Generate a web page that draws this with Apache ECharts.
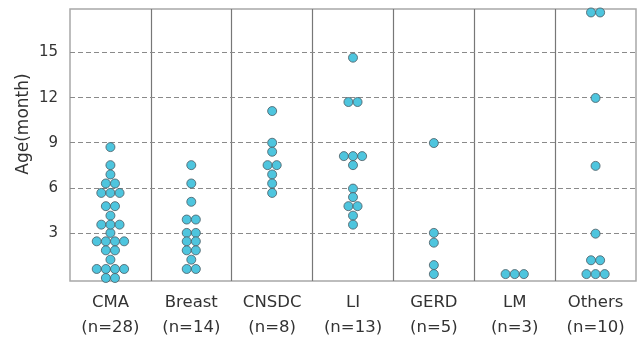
<!DOCTYPE html>
<html><head><meta charset="utf-8">
<script src="https://cdn.jsdelivr.net/npm/echarts@6/dist/echarts.min.js"></script>
<style>html,body{margin:0;padding:0;background:#fff}#c{width:640px;height:337px}</style>
</head><body><div id="c"></div>
<script>
const categories = ['CMA','Breast','CNSDC','LI','GERD','LM','Others'];
const countLabels = ['(n=28)','(n=14)','(n=8)','(n=13)','(n=5)','(n=3)','(n=10)'];
const yTicks = [3, 6, 9, 12, 15];
const cma = [8.71,7.51,6.89,6.29,6.29,5.66,5.66,5.66,4.78,4.78,4.15,3.55,3.55,3.55,3.0,2.44,2.44,2.44,2.44,1.84,1.84,1.22,0.6,0.6,0.6,0.6,0,0];
const breast = [7.51,6.29,5.07,3.89,3.89,3.0,3.0,2.44,2.44,1.84,1.84,1.22,0.6,0.6];
const cnsdc = [11.11,9.0,8.4,7.51,7.51,6.89,6.29,5.66];
const li = [14.66,11.71,11.71,8.11,8.11,8.11,7.51,5.95,5.38,4.78,4.78,4.15,3.55];
const gerd = [8.98,3.0,2.35,0.86,0.26];
const lm = [0.26,0.26,0.26];
const others = [17.67,17.67,11.98,7.46,2.95,1.18,1.18,0.26,0.26,0.26];
const groups = [cma, breast, cnsdc, li, gerd, lm, others];

// swarm layout: equal values in one category form a centred row
const dotStep = 0.113;
const points = [];
groups.forEach((vals, ci) => {
  const byVal = {};
  vals.forEach(v => { (byVal[v] = byVal[v] || []).push(v); });
  Object.keys(byVal).forEach(k => {
    const row = byVal[k];
    row.forEach((v, i) => {
      points.push([ci + 0.5 + (i - (row.length - 1) / 2) * dotStep, v]);
    });
  });
});

const FONT = 'DejaVu Sans';
const chart = echarts.init(document.getElementById('c'), null, {renderer: 'canvas'});
chart.setOption({
  animation: false,
  grid: {left: 70, right: 4, top: 9, bottom: 56, show: true, borderColor: '#a8a8a8', borderWidth: 1.5,
    containLabel: false, outerBoundsMode: 'none'},
  xAxis: [
    {type: 'category', data: categories.map((c, i) => c + '\n' + countLabels[i]),
     boundaryGap: true, axisLine: {show: false}, axisTick: {show: false}, splitLine: {show: false},
     axisLabel: {color: '#333', fontFamily: FONT, fontSize: 16.5, lineHeight: 25, margin: 9, interval: 0}},
    {type: 'value', min: 0, max: 7, interval: 1, show: true, axisLine: {show: false}, axisTick: {show: false},
     axisLabel: {show: false},
     splitLine: {show: true, showMinLine: false, showMaxLine: false, lineStyle: {color: '#777', width: 1.2}}}
  ],
  yAxis: {type: 'value', min: -0.2, max: 17.9, axisLine: {show: false}, axisTick: {show: false},
    splitLine: {show: false},
    axisLabel: {customValues: yTicks, color: '#333', fontFamily: FONT, fontSize: 15, margin: 12}},
  graphic: [{type: 'text', x: 24, y: 124, rotation: Math.PI / 2,
    style: {text: 'Age(month)', fill: '#333', font: '17px "DejaVu Sans"', align: 'center', verticalAlign: 'middle'}}],
  series: [{
    type: 'scatter', xAxisIndex: 1, data: points, symbolSize: 9,
    itemStyle: {color: '#4ec5de', borderColor: '#4a5a62', borderWidth: 0.8, opacity: 1},
    markLine: {silent: true, symbol: 'none', label: {show: false}, z: 1,
      lineStyle: {color: '#8a8a8a', type: [5, 3], width: 1},
      data: yTicks.map(v => ({yAxis: v}))},
    z: 5
  }]
});
</script></body></html>
